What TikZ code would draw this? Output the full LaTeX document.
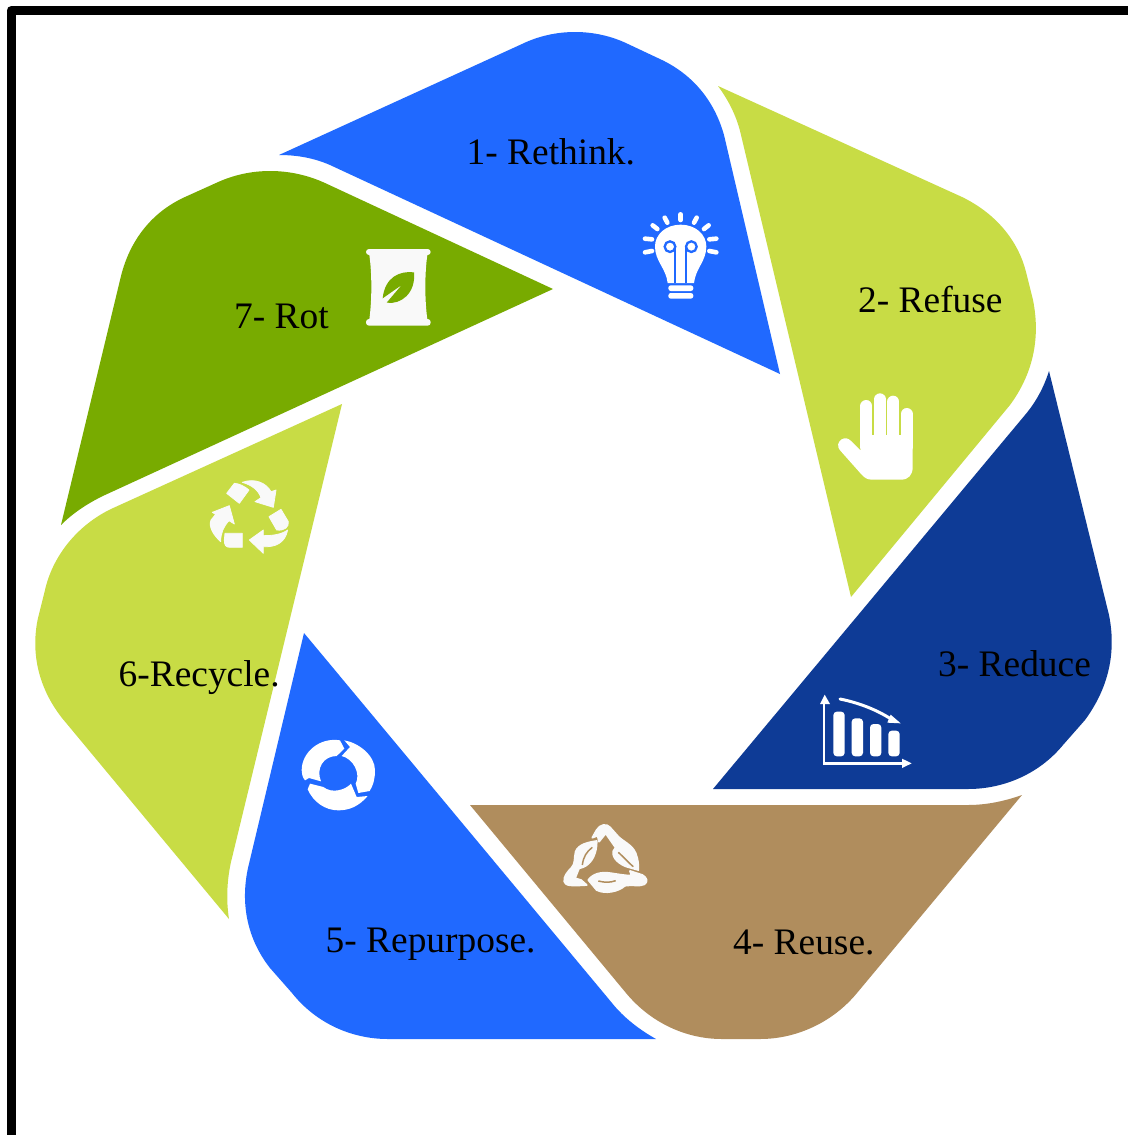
\documentclass[tikz,border=0pt]{standalone}
\usepackage{fontspec}
\setmainfont{Liberation Serif}
\definecolor{cblue}{HTML}{2069FF}
\definecolor{clime}{HTML}{C8DC45}
\definecolor{cnavy}{HTML}{0E3B96}
\definecolor{cbrown}{HTML}{B08D5D}
\definecolor{colive}{HTML}{78AB00}
\definecolor{icon}{HTML}{F9F9F9}
\tikzset{
  petal/.style={fill=#1,draw=none},
  lab/.style={anchor=base west,inner sep=0pt,font=\fontsize{37.4}{37.4}\selectfont,text=black},
  ray/.style={draw=white,line width=4.6pt,line cap=round},
  zoomed/.style={shift={#1},scale=0.33333},
  iconpiece/.style={fill=icon,draw=icon,line width=#1,line join=round}
}
\begin{document}
\begin{tikzpicture}[x=1pt,y=-1pt]
\useasboundingbox (0,0) rectangle (1127,1135);
\fill[white] (0,0) rectangle (1127,1135);
\draw[black,line width=9pt,line join=round] (11,1140) -- (11,10.5) -- (1135,10.5);
% petals
\fill[petal=cblue] (279,155) -- (522,44) .. controls (555,28) and (595,28) .. (628,44) -- (662,60) .. controls (695,76) and (715,103) .. (724,135) -- (780,374) -- (330,165) .. controls (314,158) and (297,155) .. (279,155) -- cycle;
\fill[petal=clime] (718,86) -- (962,197) .. controls (995,213) and (1018,240) .. (1026,272) -- (1033,300) .. controls (1041,340) and (1032,375) .. (1010,405) -- (851,597) -- (741,135) .. controls (737,117) and (729,101) .. (718,86) -- cycle;
\fill[petal=cnavy] (1049,371) -- (1109,615) .. controls (1117,655) and (1107,690) .. (1085,720) -- (1063,745) .. controls (1040,773) and (1005,789) .. (968,789) -- (713,789) -- (1025,415) .. controls (1036,402) and (1044,387) .. (1049,371) -- cycle;
\fill[petal=cbrown] (470,805) -- (968,805) .. controls (987,805) and (1005,801) .. (1022,795) -- (857,993) .. controls (833,1022) and (797,1039) .. (760,1039) -- (722,1039) .. controls (685,1039) and (650,1022) .. (626,993) -- cycle;
\fill[petal=cblue] (304,633) -- (612,1003) .. controls (624,1018) and (640,1030) .. (656,1039) -- (388,1039) .. controls (350,1039) and (315,1022) .. (292,993) -- (270,968) .. controls (248,940) and (240,905) .. (248,868) -- cycle;
\fill[petal=clime] (342,404) -- (231,862) .. controls (227,880) and (226,900) .. (229,919) -- (62,718) .. controls (40,690) and (30,655) .. (38,618) -- (45,590) .. controls (53,555) and (78,525) .. (111,509) -- cycle;
\fill[petal=colive] (553,289) -- (105,495) .. controls (88,503) and (73,513) .. (61,525) -- (121,276) .. controls (130,240) and (152,212) .. (185,197) -- (216,183) .. controls (250,167) and (290,167) .. (325,183) -- cycle;
% bulb
\begin{scope}[zoomed={(640,208)}]
  \foreach \a/\b/\c/\d in {122/19/122/36, 74/29/82/44, 170/29/162/44, 38/52/52/63, 206/52/192/63, 15/92/36/94, 229/92/208/94, 15/133/36/129, 229/133/208/129}
    \draw[ray] (\a,\b) -- (\c,\d);
  \fill[white] (122,50) .. controls (167,50) and (199,80) .. (199,115) .. controls (199,160) and (167,180) .. (162,225) -- (83,225) .. controls (78,180) and (45,160) .. (45,115) .. controls (45,80) and (77,50) .. (122,50) -- cycle;
  \draw[cblue,line width=2.3pt] (90,116) circle [radius=16];
  \draw[cblue,line width=2.3pt] (154,116) circle [radius=16];
  \draw[cblue,line width=2.3pt] (106,225) -- (106,116);
  \draw[cblue,line width=2.3pt] (138,225) -- (138,116);
  \fill[white,rounded corners=2.5pt] (85,232) rectangle (160,249);
  \fill[white,rounded corners=2.5pt] (85,255) rectangle (160,272);
\end{scope}
% hand
\begin{scope}[zoomed={(620,190)}]
  \foreach \a/\b in {739/648, 780/628, 820/635, 860/672}
    \draw[white,line width=12pt,line cap=round] (\a,\b) -- (\a,770);
  \fill[white] (722,735) -- (878,735) -- (878,832) .. controls (878,855) and (865,869) .. (843,869) -- (755,869) .. controls (742,869) and (733,863) .. (725,854) -- (662,783) .. controls (648,768) and (655,755) .. (665,748) .. controls (675,742) and (685,745) .. (692,752) -- (722,782) -- cycle;
\end{scope}
% chart
\begin{scope}[zoomed={(800,680)}]
  \draw[white,line width=2.6pt] (72,60) -- (72,250) -- (320,250);
  \fill[white] (60,72) -- (74,44) -- (90,72) -- cycle;
  \fill[white] (306,236) -- (335,250) -- (306,264) -- cycle;
  \foreach \a/\b in {100/95, 155/115, 210/132, 265/152}
    \fill[white,rounded corners=3.5pt] (\a,\b) rectangle (\a+34,229);
  \draw[white,line width=3pt,line cap=round] (120,57) .. controls (175,68) and (235,90) .. (285,125);
  \fill[white] (272,104) -- (302,130) -- (262,128) -- cycle;
\end{scope}
% reuse icon
\begin{scope}[zoomed={(555,815)}]
  \path[iconpiece=1.8pt] (112,68) -- (125,45) .. controls (135,28) and (155,25) .. (165,37) -- (190,65) .. controls (205,80) and (232,90) .. (242,115) .. controls (250,135) and (250,150) .. (250,165) -- (215,155) .. controls (195,148) and (170,130) .. (175,108) -- (182,98) -- (152,55) -- (132,80) -- (128,62) -- cycle;
  \draw[cbrown,line width=1.5pt] (190,112) .. controls (205,125) and (222,145) .. (235,155);
  \path[iconpiece=1.8pt] (125,78) .. controls (100,82) and (70,88) .. (62,110) .. controls (57,130) and (62,145) .. (50,158) .. controls (38,170) and (25,185) .. (28,200) .. controls (32,212) and (45,213) .. (95,210) -- (78,195) -- (60,190) -- (72,160) .. controls (100,155) and (125,130) .. (125,78) -- cycle;
  \draw[cbrown,line width=1.5pt] (82,150) .. controls (85,125) and (95,110) .. (112,97);
  \path[iconpiece=1.8pt] (100,195) .. controls (115,175) and (140,170) .. (170,175) .. controls (190,178) and (210,182) .. (230,182) -- (225,168) -- (262,180) .. controls (275,187) and (280,200) .. (268,208) .. controls (255,215) and (230,208) .. (210,212) .. controls (190,230) and (150,238) .. (125,225) -- cycle;
  \draw[cbrown,line width=1.5pt] (130,198) .. controls (150,203) and (165,203) .. (182,197);
\end{scope}
% circular arrows
\begin{scope}[zoomed={(295,732)}]
  \fill[white] (135,25) .. controls (75,15) and (20,60) .. (20,115) .. controls (20,125) and (22,135) .. (30,145) -- (42,138) -- (78,148) .. controls (62,110) and (85,72) .. (125,72) -- (148,50) -- cycle;
  \fill[white] (148,25) .. controls (190,32) and (240,70) .. (240,115) .. controls (240,140) and (235,160) .. (224,177) -- (190,183) -- (182,155) .. controls (198,125) and (175,80) .. (140,72) -- (165,45) -- cycle;
  \fill[white] (38,172) -- (45,155) -- (85,165) .. controls (110,185) and (150,175) .. (168,155) -- (185,195) -- (218,192) .. controls (190,225) and (160,235) .. (130,235) .. controls (90,235) and (55,210) .. (38,172) -- cycle;
\end{scope}
% recycle icon
\begin{scope}[zoomed={(205,475)}]
  \path[iconpiece=0.8pt] (65,55) -- (88,25) .. controls (102,25) and (120,35) .. (132,45) -- (103,85) -- cycle;
  \path[iconpiece=0.8pt] (112,22) .. controls (150,8) and (185,25) .. (198,50) -- (213,45) -- (205,97) -- (150,80) -- (168,68) .. controls (160,45) and (140,30) .. (112,22) -- cycle;
  \path[iconpiece=0.8pt] (192,125) -- (228,103) -- (250,140) .. controls (252,155) and (240,168) .. (215,165) -- cycle;
  \path[iconpiece=0.8pt] (248,165) .. controls (240,205) and (210,217) .. (175,215) -- (175,235) -- (133,195) -- (175,165) -- (175,182) .. controls (205,182) and (230,178) .. (248,165) -- cycle;
  \path[iconpiece=0.8pt] (60,175) -- (112,175) -- (112,217) -- (75,217) .. controls (62,217) and (58,210) .. (58,195) -- cycle;
  \path[iconpiece=0.8pt] (22,112) -- (73,92) -- (88,147) -- (72,137) .. controls (55,155) and (47,175) .. (47,200) .. controls (25,180) and (10,155) .. (18,135) -- (32,118) -- cycle;
\end{scope}
% bag icon
\begin{scope}[zoomed={(190,230)}]
  \fill[icon] (538,75) .. controls (546,130) and (546,210) .. (538,268) -- (712,268) .. controls (704,210) and (704,130) .. (712,75) -- cycle;
  \fill[icon,rounded corners=3pt] (528,57) rectangle (722,75);
  \fill[icon,rounded corners=3pt] (528,267) rectangle (722,287);
  \fill[colive] (578,205) .. controls (585,140) and (630,122) .. (672,127) .. controls (678,190) and (632,225) .. (590,218) -- (635,165) -- cycle;
\end{scope}
% labels
\node[lab] (l1) at (466.5,164) {1- Rethink.};
\node[lab] (l2) at (858,312) {2- Refuse};
\node[lab] (l3) at (938,676) {3- Reduce};
\node[lab] (l4) at (733,954) {4- Reuse.};
\node[lab] (l5) at (325.5,952) {5- Repurpose.};
\node[lab] (l6) at (118.5,686) {6-Recycle.};
\node[lab] (l7) at (234,328) {7- Rot};
\end{tikzpicture}
\end{document}
